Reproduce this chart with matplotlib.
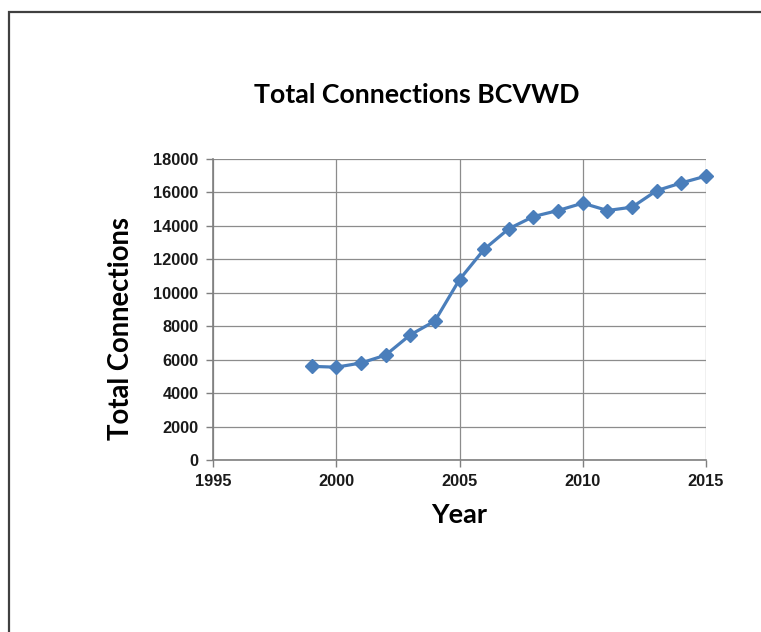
#!/usr/bin/env python3
# -*- coding: utf-8 -*-

"""
Total Connections BCVWD - line chart of connections per year
"""

import matplotlib
matplotlib.use("Agg")
import matplotlib.pyplot as plt
from matplotlib.patches import Rectangle

# === Data ===
YEARS = [1999, 2000, 2001, 2002, 2003, 2004, 2005, 2006, 2007,
         2008, 2009, 2010, 2011, 2012, 2013, 2014, 2015]
CONNECTIONS = [5600, 5550, 5800, 6270, 7480, 8310, 10790, 12600, 13830,
               14560, 14920, 15360, 14920, 15120, 16110, 16570, 16980]
X_TICKS = [1995, 2000, 2005, 2010, 2015]
Y_TICKS = [0, 2000, 4000, 6000, 8000, 10000, 12000, 14000, 16000, 18000]

W, H = 761, 632
LINE_BLUE = "#4a7ebb"
GRID = "#8c8c8c"


def main():
    fig = plt.figure(figsize=(W / 100, H / 100), dpi=100)
    ax = fig.add_axes([213 / W, 1 - 460 / H, (706 - 213) / W, (460 - 159) / H])

    ax.plot(YEARS, CONNECTIONS, color=LINE_BLUE, lw=2.3, marker="D",
            markersize=7.3, markerfacecolor=LINE_BLUE, markeredgecolor=LINE_BLUE,
            clip_on=False, zorder=3)

    ax.set_xlim(1995, 2015)
    ax.set_ylim(0, 18000)
    ax.set_xticks(X_TICKS)
    ax.set_yticks(Y_TICKS)
    ax.grid(True, color=GRID, lw=0.9)
    ax.set_axisbelow(True)

    for side in ["top", "right"]:
        ax.spines[side].set_visible(False)
    for side in ["left", "bottom"]:
        ax.spines[side].set_color("#7f7f7f")
        ax.spines[side].set_linewidth(1.2)

    ax.tick_params(axis="both", direction="out", length=5, width=1,
                   color="#7f7f7f", labelsize=11.8)
    ax.tick_params(axis="y", pad=5.5)
    ax.tick_params(axis="x", pad=5)
    for lbl in ax.get_xticklabels() + ax.get_yticklabels():
        lbl.set_fontfamily("Liberation Sans")
        lbl.set_fontweight("bold")
        lbl.set_color("#1a1a1a")

    # 見出しとラベル
    fig.text(417 / W, 1 - 95 / H, "Total Connections BCVWD", ha="center",
             va="center", fontsize=19.3, fontweight="bold", family="Lato")
    fig.text(121 / W, 1 - 328 / H, "Total Connections", ha="center",
             va="center", rotation=90, fontsize=19.8, fontweight="bold",
             family="Lato")
    fig.text(459 / W, 1 - 515 / H, "Year", ha="center", va="center",
             fontsize=19.5, fontweight="bold", family="Lato")

    # outer frame (runs past right/bottom edges)
    fig.patches.append(Rectangle((8.5 / W, -0.05), 1.2, 1 - 12 / H + 0.05,
                                 transform=fig.transFigure, fill=False,
                                 edgecolor="#404040", lw=1.6))

    fig.savefig("out.png", dpi=100)


if __name__ == "__main__":
    main()
